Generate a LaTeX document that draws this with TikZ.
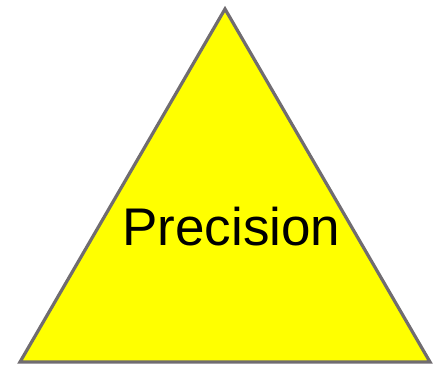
\documentclass[tikz,border=0pt]{standalone}
\usepackage{fontspec}
\setmainfont{Liberation Sans}
\usetikzlibrary{positioning}
\definecolor{edgegray}{RGB}{112,108,112}
\definecolor{triyellow}{RGB}{255,255,0}
\tikzset{
  tri/.style={draw=edgegray,fill=triyellow,line width=3.2pt,line join=miter},
  lbl/.style={font=\fontsize{53}{60}\selectfont,anchor=base,inner sep=0pt}
}
\begin{document}
\begin{tikzpicture}[x=1pt,y=1pt]
  \useasboundingbox (0,0) rectangle (443,365);
  \coordinate (top) at (225,356);
  \coordinate (left) at (20,3);
  \coordinate (right) at (430,3);
  \draw[tri] (left) -- (top) -- (right) -- cycle;
  \node[lbl] (precision) at (231.5,120) {Precision};
\end{tikzpicture}
\end{document}
